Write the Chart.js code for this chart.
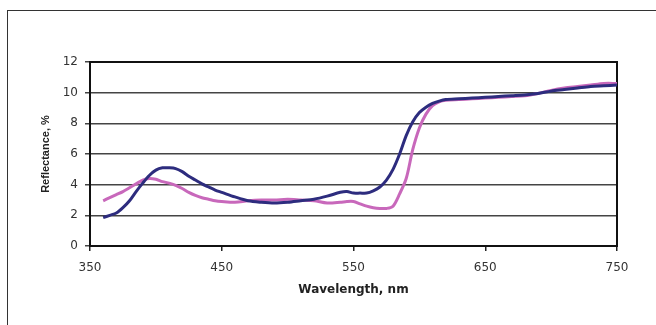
<!DOCTYPE html>
<html>
<head>
<meta charset="utf-8">
<script src="https://cdn.jsdelivr.net/npm/chart.js@4.4.1/dist/chart.umd.min.js"></script>
<style>
  html, body { margin: 0; padding: 0; background: #fff; overflow: hidden; }
  /* marco exterior de la figura (solo borde izquierdo y superior visibles) */
  .marco { position: absolute; left: 7px; top: 10px; width: 700px; height: 400px;
           border-left: 1.5px solid #333; border-top: 1.5px solid #333; }
  canvas { position: absolute; left: 0; top: 0; }
</style>
</head>
<body>
<div class="marco"></div>
<canvas id="grafico" width="656" height="325"></canvas>
<script>
// Longitudes de onda (nm) compartidas por las dos curvas
const longitudes = [360, 365, 370, 375, 380, 385, 390, 395, 400, 405, 410, 415, 420, 425, 430, 435,
    440, 445, 450, 460, 470, 480, 490, 500, 510, 520, 530, 540, 545, 550, 555, 560, 565, 570, 575,
    580, 585, 590, 595, 600, 605, 610, 615, 620, 630, 640, 650, 660, 670, 680, 690, 700, 710, 720,
    730, 740, 750];

// Reflectancia (%) curva azul
const reflAzul = [1.85, 2.0, 2.15, 2.5, 2.95, 3.55, 4.1, 4.6, 4.95, 5.1, 5.1, 5.05, 4.85, 4.55, 4.3, 4.05,
    3.85, 3.65, 3.5, 3.2, 2.95, 2.85, 2.8, 2.85, 2.95, 3.05, 3.25, 3.5, 3.55, 3.45, 3.45, 3.45, 3.6, 3.85, 4.3,
    5.0, 6.0, 7.2, 8.1, 8.7, 9.05, 9.3, 9.45, 9.55, 9.6, 9.65, 9.7, 9.75, 9.8, 9.85, 9.95, 10.1, 10.2, 10.3,
    10.4, 10.45, 10.5];

// Reflectancia (%) curva rosa
const reflRosa = [2.95, 3.15, 3.35, 3.55, 3.8, 4.05, 4.3, 4.4, 4.35, 4.2, 4.1, 3.95, 3.75, 3.5, 3.3, 3.15,
    3.05, 2.95, 2.9, 2.85, 2.95, 3.0, 3.0, 3.05, 3.0, 2.95, 2.8, 2.85, 2.9, 2.9, 2.75, 2.6, 2.5, 2.45, 2.45,
    2.6, 3.4, 4.4, 6.3, 7.7, 8.6, 9.15, 9.4, 9.5, 9.55, 9.6, 9.65, 9.7, 9.75, 9.8, 9.95, 10.15, 10.3, 10.4,
    10.5, 10.6, 10.6];

// Etiquetas de los ejes
const ticksX = [350, 450, 550, 650, 750];
const ticksY = [0, 2, 4, 6, 8, 10, 12];

const colorTexto = '#333';

// Borde negro alrededor del área de trazado
const bordePlot = {
    id: 'bordePlot',
    beforeDatasetsDraw(chart) {
        const a = chart.chartArea;
        const ctx = chart.ctx;
        ctx.save();
        ctx.strokeStyle = '#111';
        ctx.lineWidth = 2;
        ctx.strokeRect(a.left, a.top, a.right - a.left, a.bottom - a.top);
        ctx.restore();
    }
};

function puntos(valores) {
    return longitudes.map((x, i) => ({ x: x, y: valores[i] }));
}

new Chart(document.getElementById('grafico').getContext('2d'), {
    type: 'line',
    data: {
        datasets: [{
            data: puntos(reflAzul),
            borderColor: '#2d2c7e',
            borderWidth: 3,
            pointRadius: 0,
            tension: 0.3
        }, {
            data: puntos(reflRosa),
            borderColor: '#c868bb',
            borderWidth: 3,
            pointRadius: 0,
            tension: 0.3
        }]
    },
    options: {
        responsive: false,
        animation: false,
        layout: { padding: { top: 62, right: 39, left: 0, bottom: 0 } },
        plugins: { legend: { display: false }, tooltip: { enabled: false } },
        scales: {
            x: {
                type: 'linear',
                min: 350,
                max: 750,
                afterFit: s => { s.height = 79; },
                afterBuildTicks: s => { s.ticks = ticksX.map(v => ({ value: v })); },
                grid: { drawOnChartArea: false, drawTicks: true, tickLength: 5, color: '#222', lineWidth: 1.5 },
                border: { display: false },
                ticks: { color: colorTexto, padding: 10, maxRotation: 0,
                         font: { family: 'DejaVu Sans', size: 12 } },
                title: { display: true, text: 'Wavelength, nm', color: '#222',
                         font: { family: 'DejaVu Sans', size: 12, weight: 'bold' },
                         padding: { top: 0, bottom: 28 } }
            },
            y: {
                min: 0,
                max: 12,
                afterFit: s => { s.width = 90; },
                afterBuildTicks: s => { s.ticks = ticksY.map(v => ({ value: v })); },
                grid: { drawTicks: true, tickLength: 5, color: '#444', lineWidth: 1.5 },
                border: { display: false },
                ticks: { color: colorTexto, padding: 7,
                         font: { family: 'DejaVu Sans', size: 12 } },
                title: { display: true, text: 'Reflectance, %', color: '#222',
                         font: { family: 'Liberation Sans', size: 11, weight: 'bold' },
                         padding: { top: 39, bottom: 0 } }
            }
        }
    },
    plugins: [bordePlot]
});
</script>
</body>
</html>
